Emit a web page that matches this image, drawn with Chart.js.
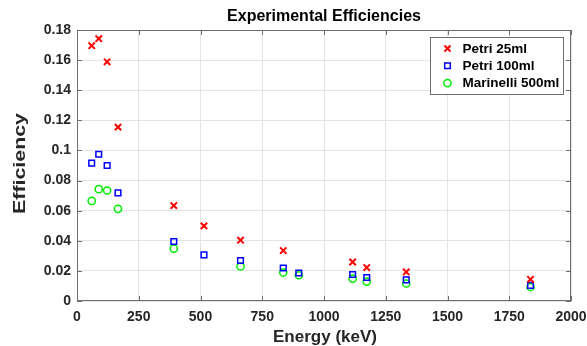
<!DOCTYPE html>
<html>
<head>
<meta charset="utf-8">
<title>Experimental Efficiencies</title>
<script src="https://cdn.jsdelivr.net/npm/chart.js@4.4.1/dist/chart.umd.min.js"></script>
<style>
    html, body { margin: 0; padding: 0; background: #fff; }
    #wrap { width: 587px; height: 346px; }
</style>
</head>
<body>
<div id="wrap"><canvas id="effChart" width="587" height="346"></canvas></div>
<script>
// Gamma energies (keV) and measured efficiencies, null where no point was plotted
const energies = [59.5, 88, 122, 166, 392, 514, 662, 835, 898, 1116, 1173, 1333, 1836];
const petri25 = [0.1696, 0.1742, 0.1589, 0.1155, 0.0634, 0.0499, 0.0404, 0.0335, null, 0.0259, 0.0222, 0.0193, 0.0144];
const petri100 = [0.0916, 0.0975, 0.0900, 0.0718, 0.0395, 0.0306, 0.0269, 0.0219, 0.0186, 0.0176, 0.0156, 0.0140, 0.0104];
const marinelli = [0.0665, 0.0743, 0.0734, 0.0612, 0.0348, null, 0.0229, 0.0189, 0.0171, 0.0149, 0.0129, 0.0116, 0.0093];

const xTicks = [0, 250, 500, 750, 1000, 1250, 1500, 1750, 2000];
const yTicks = [0, 0.02, 0.04, 0.06, 0.08, 0.1, 0.12, 0.14, 0.16, 0.18];
const yTickLabels = ['0', '0.02', '0.04', '0.06', '0.08', '0.1', '0.12', '0.14', '0.16', '0.18'];

const FONT = '"Liberation Sans", Arial, sans-serif';
const TEXT = '#262626';

function toPoints(values) {
    const pts = [];
    values.forEach((v, i) => {
        if (v !== null) pts.push({ x: energies[i], y: v });
    });
    return pts;
}

function drawMarker(ctx, style, color, cx, cy) {
    ctx.strokeStyle = color;
    ctx.beginPath();
    if (style === 'crossRot') {
        ctx.lineWidth = 2;
        ctx.moveTo(cx - 3, cy - 3); ctx.lineTo(cx + 3, cy + 3);
        ctx.moveTo(cx + 3, cy - 3); ctx.lineTo(cx - 3, cy + 3);
    } else if (style === 'rect') {
        ctx.lineWidth = 1.5;
        ctx.rect(cx - 2.8, cy - 2.8, 5.6, 5.6);
    } else {
        ctx.lineWidth = 1.5;
        ctx.arc(cx, cy, 3.6, 0, Math.PI * 2);
    }
    ctx.stroke();
}

// axis label stretched to the width it has in the original figure
function fitText(ctx, text, cx, cy, width, rotation) {
    ctx.save();
    ctx.translate(cx, cy);
    ctx.rotate(rotation);
    const w = ctx.measureText(text).width;
    ctx.scale(width / w, 1);
    ctx.fillText(text, 0, 0);
    ctx.restore();
}

// MATLAB-like axes box, inward ticks, titles and legend
const axesDecor = {
    id: 'axesDecor',
    afterDraw(chart) {
        const { ctx, chartArea: a, scales: { x, y } } = chart;
        ctx.save();

        ctx.strokeStyle = '#6e6e6e';
        ctx.lineWidth = 1;
        ctx.strokeRect(Math.round(a.left) + 0.5, Math.round(a.top) + 0.5,
            Math.round(a.width) - 1, Math.round(a.height) - 1);

        ctx.beginPath();
        xTicks.forEach(v => {
            const px = Math.round(x.getPixelForValue(v)) + 0.5;
            ctx.moveTo(px, a.bottom); ctx.lineTo(px, a.bottom - 5);
            ctx.moveTo(px, a.top); ctx.lineTo(px, a.top + 5);
        });
        yTicks.forEach(v => {
            const py = Math.round(y.getPixelForValue(v)) + 0.5;
            ctx.moveTo(a.left, py); ctx.lineTo(a.left + 5, py);
            ctx.moveTo(a.right, py); ctx.lineTo(a.right - 5, py);
        });
        ctx.stroke();

        // title
        ctx.fillStyle = '#000';
        ctx.font = 'bold 16px ' + FONT;
        ctx.textAlign = 'center';
        ctx.textBaseline = 'middle';
        ctx.fillText('Experimental Efficiencies', (a.left + a.right) / 2, 17);

        // axis titles
        ctx.fillStyle = TEXT;
        ctx.font = 'bold 17px ' + FONT;
        fitText(ctx, 'Energy (keV)', (a.left + a.right) / 2 + 1, 337, 104, 0);
        fitText(ctx, 'Efficiency', 20, 163.5, 101, -Math.PI / 2);

        // legend
        const lx = 430, ly = 37, lw = 133, lh = 57;
        ctx.fillStyle = '#fff';
        ctx.fillRect(lx, ly, lw, lh);
        ctx.strokeStyle = '#6e6e6e';
        ctx.lineWidth = 1;
        ctx.strokeRect(lx + 0.5, ly + 0.5, lw, lh);
        ctx.font = 'bold 13.5px ' + FONT;
        ctx.textAlign = 'left';
        chart.data.datasets.forEach((ds, i) => {
            const rowY = 48.5 + i * 17.3;
            drawMarker(ctx, ds.pointStyle, ds.borderColor, 447.5, rowY);
            ctx.fillStyle = '#000';
            ctx.fillText(ds.label, 462.5, rowY + 0.5);
        });

        ctx.restore();
    }
};

const ctx = document.getElementById('effChart').getContext('2d');
new Chart(ctx, {
    type: 'scatter',
    data: {
        datasets: [{
            label: 'Petri 25ml',
            data: toPoints(petri25),
            pointStyle: 'crossRot',
            pointRadius: 4.5,
            pointBorderWidth: 2,
            borderColor: '#ff0000',
            backgroundColor: 'rgba(0,0,0,0)'
        }, {
            label: 'Petri 100ml',
            data: toPoints(petri100),
            pointStyle: 'rect',
            pointRadius: 4,
            pointBorderWidth: 1.5,
            borderColor: '#0000ff',
            backgroundColor: 'rgba(0,0,0,0)'
        }, {
            label: 'Marinelli 500ml',
            data: toPoints(marinelli),
            pointStyle: 'circle',
            pointRadius: 3.6,
            pointBorderWidth: 1.5,
            borderColor: '#00ee00',
            backgroundColor: 'rgba(0,0,0,0)'
        }]
    },
    options: {
        responsive: false,
        animation: false,
        devicePixelRatio: 1,
        layout: { padding: { top: 30, right: 16, left: 0, bottom: 0 } },
        plugins: {
            legend: { display: false },
            title: { display: false },
            tooltip: { enabled: false }
        },
        scales: {
            x: {
                type: 'linear',
                min: 0,
                max: 2000,
                afterBuildTicks: scale => { scale.ticks = xTicks.map(v => ({ value: v })); },
                afterFit: scale => {
                    scale.height = 45;
                    scale.paddingLeft = 0;
                    scale.paddingRight = 0;
                },
                grid: { color: '#e4e4e4', drawTicks: false },
                border: { display: false },
                ticks: {
                    padding: 8,
                    maxRotation: 0,
                    color: TEXT,
                    font: { family: FONT, size: 14, weight: 'bold' },
                    callback: v => String(v)
                },
                title: { display: false }
            },
            y: {
                type: 'linear',
                min: 0,
                max: 0.18,
                afterBuildTicks: scale => { scale.ticks = yTicks.map(v => ({ value: v })); },
                afterFit: scale => {
                    scale.width = 77;
                    scale.paddingTop = 0;
                    scale.paddingBottom = 0;
                },
                grid: { color: '#e4e4e4', drawTicks: false },
                border: { display: false },
                ticks: {
                    padding: 6,
                    color: TEXT,
                    font: { family: FONT, size: 14, weight: 'bold' },
                    callback: (v, i) => yTickLabels[i]
                },
                title: { display: false }
            }
        }
    },
    plugins: [axesDecor]
});
</script>
</body>
</html>
